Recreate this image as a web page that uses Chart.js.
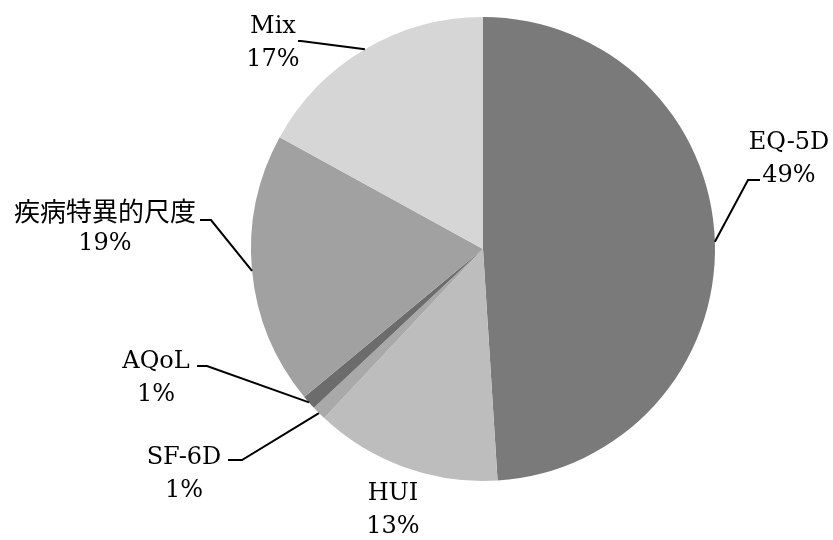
<!DOCTYPE html>
<html>
<head>
<meta charset="utf-8">
<script src="https://cdn.jsdelivr.net/npm/chart.js@4/dist/chart.umd.min.js"></script>
<style>
  html, body { margin:0; padding:0; background:#fff; }
  #wrap { width:833px; height:540px; position:relative; }
</style>
</head>
<body>
<div id="wrap"><canvas id="c"></canvas></div>
<script>
/* ---------- data ---------- */
const labels  = ['EQ-5D', 'HUI', 'SF-6D', 'AQoL', '疾病特異的尺度', 'Mix'];
const shares  = [49, 13, 1, 1, 19, 17];
const colours = ['#7a7a7a', '#bdbdbd', '#a9a9a9', '#6c6c6c', '#a1a1a1', '#d6d6d6'];

/* ---------- label layout (text position + leader elbow) ---------- */
// x,y = centre of the name line; elbow = where the short horizontal tick starts
const labelPos = [
  { x:789, y:143, elbow:[760,180], tick:[748,180] },
  { x:393, y:494, elbow:null },
  { x:184, y:458, elbow:[228,460], tick:[242,460] },
  { x:156, y:362, elbow:[197,366], tick:[207,366] },
  { x:105, y:211, elbow:[200,220], tick:[211,220] },
  { x:273, y:27,  elbow:[298,41],  tick:[301,41] }
];

const LATIN = '"DejaVu Serif", "Liberation Serif", serif';
const CJK   = '"Noto Sans CJK JP", sans-serif';

/* ---------- leader labels plugin ---------- */
const leaderLabels = {
  id:'leaderLabels',
  afterDraw(chart){
    const ctx  = chart.ctx;
    const arcs = chart.getDatasetMeta(0).data;
    ctx.save();
    ctx.fillStyle = '#000';
    ctx.strokeStyle = '#000';
    ctx.lineWidth = 2;
    ctx.textAlign = 'center';
    ctx.textBaseline = 'middle';

    arcs.forEach((arc, i) => {
      const p = labelPos[i];
      const name = labels[i];
      const isCjk = /[^\x00-\x7f]/.test(name);
      ctx.font = isCjk ? '400 26px ' + CJK : '24px ' + LATIN;
      ctx.fillText(name, p.x, p.y);
      ctx.font = '24px ' + LATIN;
      ctx.fillText(shares[i] + '%', p.x, p.y + 33);

      if (p.elbow){
        const { x, y, startAngle, endAngle, outerRadius } = arc.getProps(
          ['x','y','startAngle','endAngle','outerRadius'], true);
        const mid = (startAngle + endAngle) / 2;
        const ax = x + Math.cos(mid) * outerRadius;
        const ay = y + Math.sin(mid) * outerRadius;
        ctx.beginPath();
        ctx.moveTo(p.elbow[0], p.elbow[1]);
        ctx.lineTo(p.tick[0], p.tick[1]);
        ctx.lineTo(ax, ay);
        ctx.stroke();
      }
    });
    ctx.restore();
  }
};

/* ---------- chart ---------- */
new Chart(document.getElementById('c'), {
  type:'pie',
  data:{
    labels,
    datasets:[{ data:shares, backgroundColor:colours, borderWidth:0 }]
  },
  options:{
    responsive:true,
    maintainAspectRatio:false,
    animation:false,
    layout:{ padding:{ left:251, right:118, top:16, bottom:58 } },
    plugins:{ legend:{ display:false }, tooltip:{ enabled:false } }
  },
  plugins:[leaderLabels]
});
</script>
</body>
</html>
